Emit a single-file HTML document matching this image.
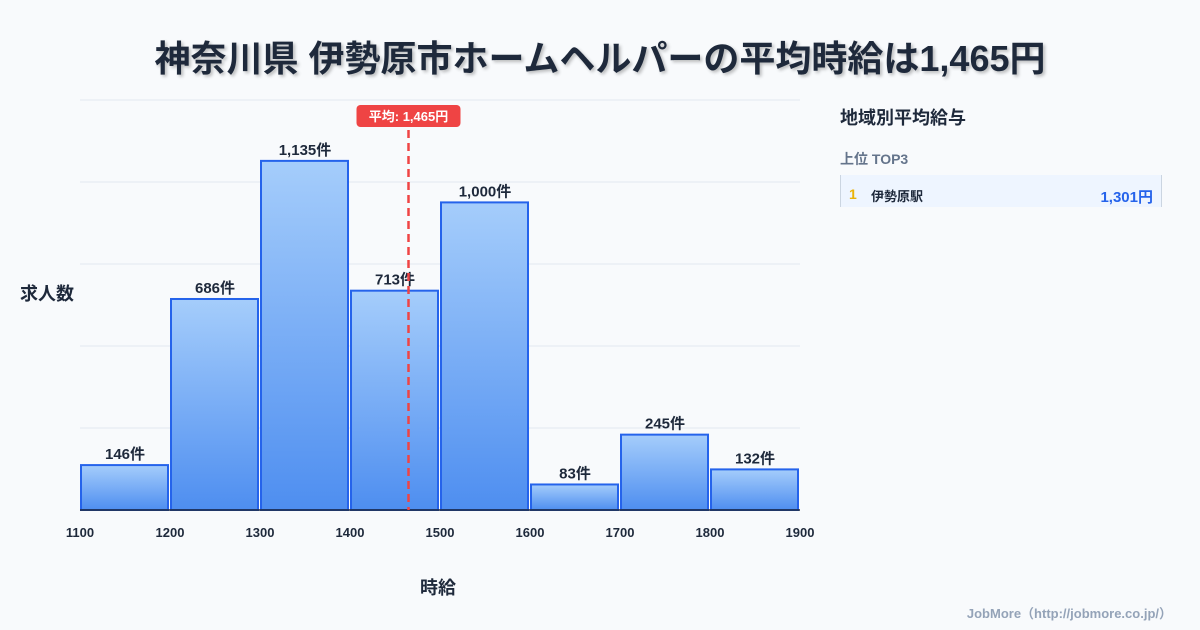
<!DOCTYPE html>
<html><head><meta charset="utf-8"><style>
body{margin:0;width:1200px;height:630px;background:#f8fafc;font-family:"Liberation Sans","Noto Sans CJK JP",sans-serif;overflow:hidden;position:relative;color:#1e293b}
.t{position:absolute;white-space:nowrap}
</style></head><body>
<div class="t" style="left:0;width:1200px;top:30px;text-align:center;font-size:36px;font-weight:bold;color:#1e293b;text-shadow:2px 2px 3px rgba(0,0,0,0.25)">神奈川県 伊勢原市ホームヘルパーの平均時給は1,465円</div>
<svg id="chart" width="1200" height="630" style="position:absolute;left:0;top:0">
<defs><linearGradient id="g" x1="0" y1="0" x2="0" y2="1"><stop offset="0" stop-color="#a5cdfb"/><stop offset="1" stop-color="#4e8ef0"/></linearGradient></defs>
</svg>
<div class="t" style="left:20px;top:280px;font-size:18px;font-weight:bold">求人数</div>
<div class="t" style="left:420px;top:574px;font-size:18px;font-weight:bold">時給</div>
<div class="t" style="left:840px;top:104px;font-size:18px;font-weight:bold">地域別平均給与</div>
<div class="t" style="left:840px;top:149px;font-size:14px;font-weight:bold;color:#64748b">上位 TOP3</div>
<div style="position:absolute;left:840px;top:175px;width:320px;height:32px;background:#eef5ff;border-left:1px solid #cbd5e1;border-right:1px solid #cbd5e1">
<span class="t" style="left:8px;top:11px;font-size:14px;font-weight:bold;color:#eab308">1</span>
<span class="t" style="left:30px;top:11px;font-size:13px;font-weight:bold">伊勢原駅</span>
<span class="t" style="right:8px;top:11px;font-size:15px;font-weight:bold;color:#2563eb">1,301円</span>
</div>
<div class="t" style="right:28px;top:603px;font-size:13px;font-weight:bold;color:#94a3b8">JobMore（http://jobmore.co.jp/）</div>
<script>
const bins=[1100,1200,1300,1400,1500,1600,1700,1800];
const counts=[146,686,1135,713,1000,83,245,132];
const xTicks=[1100,1200,1300,1400,1500,1600,1700,1800,1900];
const avgWage=1465;
const avgLabel="平均: 1,465円";
const NS="http://www.w3.org/2000/svg";
const svg=document.getElementById('chart');
const x=v=>80+(v-1100)*0.9;
const y=v=>510-v*0.3076;
function mk(t,a){const e=document.createElementNS(NS,t);for(const k in a)e.setAttribute(k,a[k]);svg.appendChild(e);return e;}
for(let i=0;i<=5;i++){const gy=510-i*82;
const l=mk('line',{x1:80,x2:800,y1:gy,y2:gy,stroke:'#e2e8f0','stroke-width':1});

}
bins.forEach((b,i)=>{
const r=mk('rect',{x:x(b)+1,y:y(counts[i]),width:87,height:510-y(counts[i]),fill:'url(#g)',stroke:'#2563eb','stroke-width':2});


const t=mk('text',{x:x(b)+45,y:y(counts[i])-6,'text-anchor':'middle','font-size':15,'font-weight':'bold',fill:'#1e293b'});
t.textContent=counts[i].toLocaleString()+'件';


});
const ax=mk('line',{x1:80,x2:800,y1:510,y2:510,stroke:'#1e293b','stroke-width':1.5});


xTicks.forEach(v=>{
const t=mk('text',{x:x(v),y:537,'text-anchor':'middle','font-size':13,'font-weight':'bold',fill:'#1e293b'});
t.textContent=v;


});
const ml=mk('line',{x1:x(avgWage),x2:x(avgWage),y1:130,y2:510,stroke:'#ef4444','stroke-width':2.5,'stroke-dasharray':'8,5'});


const lb=mk('rect',{x:x(avgWage)-52,y:105,width:104,height:22,rx:4,fill:'#ef4444'});


const lt=mk('text',{x:x(avgWage),y:121,'text-anchor':'middle','font-size':13,'font-weight':'bold',fill:'#fff'});
lt.textContent=avgLabel;


</script>
</body></html>
